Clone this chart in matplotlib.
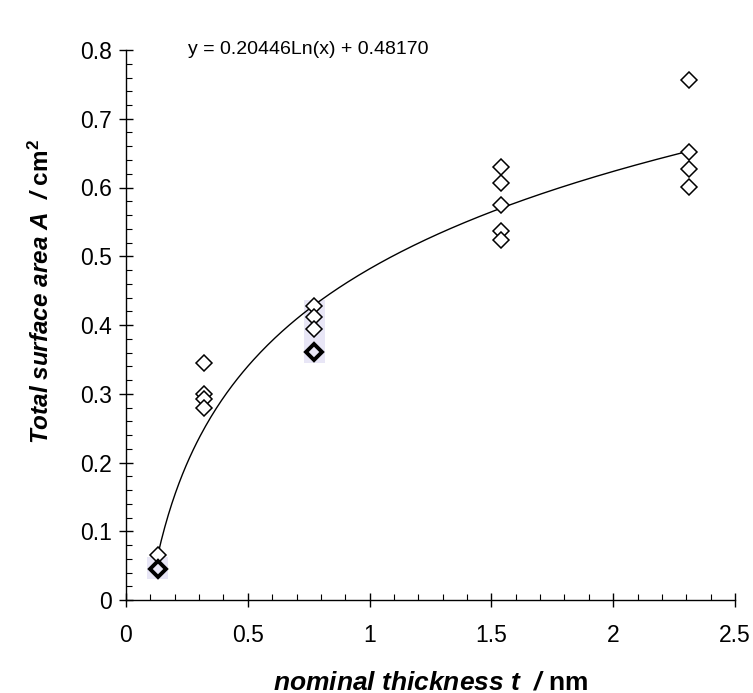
import numpy as np
import matplotlib
matplotlib.use("Agg")
import matplotlib.pyplot as plt
from matplotlib.patches import Rectangle
from matplotlib.ticker import MultipleLocator
from collections import Counter

plt.rcParams["font.family"] = ["Liberation Sans", "DejaVu Sans"]
plt.rcParams["mathtext.fontset"] = "custom"
plt.rcParams["mathtext.rm"] = "Liberation Sans"
plt.rcParams["mathtext.bf"] = "Liberation Sans:bold"
plt.rcParams["mathtext.bfit"] = "Liberation Sans:italic:bold"
plt.rcParams["mathtext.it"] = "Liberation Sans:italic"

# Measured surface area for each nominal film thickness
thickness_nm = [0.13, 0.13, 0.13, 0.13,
                0.32, 0.32, 0.32, 0.32,
                0.77, 0.77, 0.77, 0.77, 0.77,
                1.54, 1.54, 1.54, 1.54, 1.54,
                2.31, 2.31, 2.31, 2.31]
area_cm2 = [0.065, 0.045, 0.045, 0.045,
            0.345, 0.300, 0.292, 0.280,
            0.428, 0.411, 0.394, 0.361, 0.361,
            0.630, 0.607, 0.575, 0.537, 0.523,
            0.757, 0.652, 0.627, 0.601]

# Logarithmic fit  y = a ln(x) + b
fit_a = 0.20446
fit_b = 0.48170

x_ticks = [0, 0.5, 1, 1.5, 2, 2.5]
x_ticklabels = ["0", "0.5", "1", "1.5", "2", "2.5"]
y_ticks = [0, 0.1, 0.2, 0.3, 0.4, 0.5, 0.6, 0.7, 0.8]
y_ticklabels = ["0", "0.1", "0.2", "0.3", "0.4", "0.5", "0.6", "0.7", "0.8"]

fig = plt.figure(figsize=(7.53, 6.93), dpi=100)
ax = fig.add_axes([126 / 753, 1 - 600 / 693, (735 - 126) / 753, 550 / 693])

# faint highlight behind the grouped replicate points
hl_color = "#e8e6f6"
ax.add_patch(Rectangle((0.085, 0.031), 0.088, 0.031, facecolor=hl_color,
                       edgecolor="none", zorder=0))
ax.add_patch(Rectangle((0.73, 0.345), 0.085, 0.092, facecolor=hl_color,
                       edgecolor="none", zorder=0))

# fitted curve over the measured range
xf = np.linspace(min(thickness_nm), max(thickness_nm), 300)
ax.plot(xf, fit_a * np.log(xf) + fit_b, color="black", lw=1.0, zorder=2)

# data points; coincident replicates are drawn heavier
counts = Counter(zip(thickness_nm, area_cm2))
for (xv, yv), n in counts.items():
    ax.plot([xv], [yv], linestyle="none", marker="D", markersize=8,
            markerfacecolor="white" if n == 1 else "none",
            markeredgecolor="black",
            markeredgewidth=1.1 if n == 1 else 2.8, zorder=3)

ax.set_xlim(0, 2.5)
ax.set_ylim(0, 0.8)
ax.set_xticks(x_ticks)
ax.set_xticklabels(x_ticklabels)
ax.set_yticks(y_ticks)
ax.set_yticklabels(y_ticklabels)
ax.xaxis.set_minor_locator(MultipleLocator(0.1))
ax.yaxis.set_minor_locator(MultipleLocator(0.02))

for s in ("top", "right"):
    ax.spines[s].set_visible(False)
for s in ("left", "bottom"):
    ax.spines[s].set_linewidth(1.0)

ax.tick_params(which="major", direction="inout", length=10, width=1.0,
               labelsize=16.5)
ax.tick_params(axis="x", which="major", pad=12)
ax.tick_params(axis="y", which="major", pad=5)
ax.tick_params(which="minor", direction="in", length=4, width=0.8)

ax.text(0.255, 0.80, "y = 0.20446Ln(x) + 0.48170", fontsize=14,
        ha="left", va="center")

ax.set_xlabel(r"$\mathbfit{nominal\ thickness\ t\ \ /}$ nm",
              fontsize=19, fontweight="bold")
ax.set_ylabel(r"$\mathbfit{Total\ surface\ area\ A\ \ /}$ cm$^\mathregular{2}$",
              fontsize=17.5, fontweight="bold")
ax.xaxis.set_label_coords(0.5, -0.128)
ax.yaxis.set_label_coords(-0.118, 0.56)

fig.savefig("out.png", dpi=100)
